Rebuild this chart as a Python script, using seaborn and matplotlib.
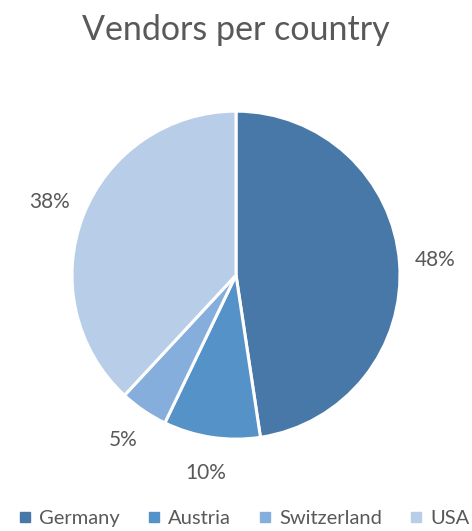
import matplotlib
matplotlib.use("Agg")
import matplotlib.pyplot as plt
from matplotlib.lines import Line2D
import seaborn as sns

countries = ["Germany", "Austria", "Switzerland", "USA"]
vendors = [10, 2, 1, 8]
colors = ["#4878a8", "#5592c8", "#86aedd", "#b8cde8"]

TEXT = "#595959"

sns.set_theme(style="white")
plt.rcParams["font.family"] = ["Lato", "DejaVu Sans"]

fig = plt.figure(figsize=(4.72, 5.31), dpi=100)
ax = fig.add_axes([0.1525, 0.173, 0.695, 0.6177])

wedges, texts, autotexts = ax.pie(
    vendors,
    colors=colors,
    startangle=90,
    counterclock=False,
    autopct="%1.0f%%",
    pctdistance=1.22,
    wedgeprops={"edgecolor": "white", "linewidth": 2.2},
    textprops={"color": TEXT, "fontsize": 15},
)
ax.set_xlim(-1, 1)
ax.set_ylim(-1, 1)
ax.set_aspect("equal")
ax.axis("off")

fig.text(0.5, 0.943, "Vendors per country", ha="center", va="center",
         fontsize=24.5, color=TEXT)

handles = [Line2D([0], [0], marker="s", linestyle="none", markersize=7,
                  markerfacecolor=c, markeredgecolor=c) for c in colors]
fig.legend(handles, countries, loc="center", bbox_to_anchor=(0.515, 0.024),
           ncol=4, frameon=False, fontsize=14.5, labelcolor=TEXT,
           handletextpad=0.3, columnspacing=1.3, handlelength=0.8,
           borderpad=0.2)

fig.savefig("out.png", dpi=100)
